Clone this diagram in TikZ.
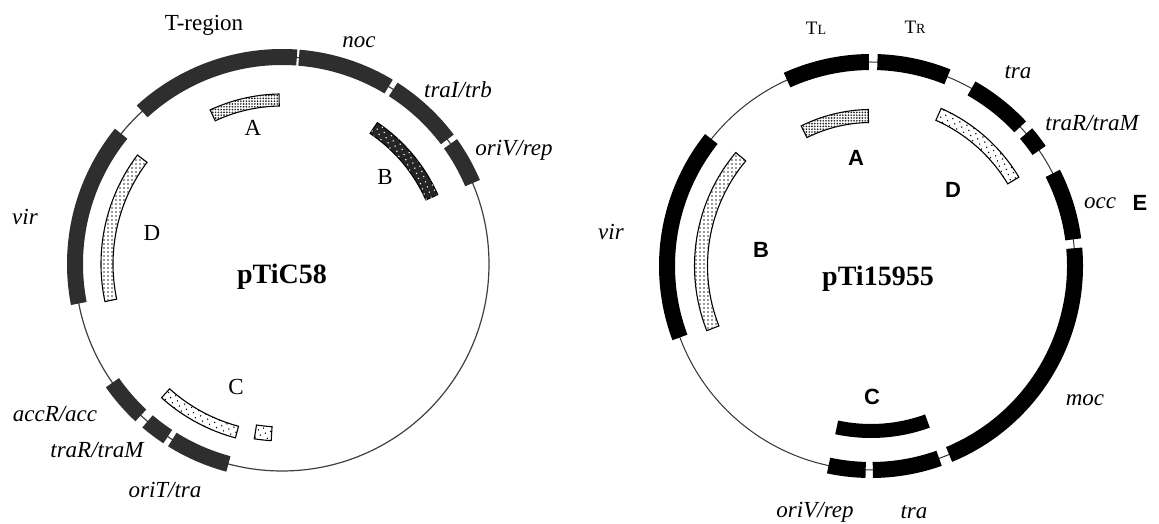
\documentclass[tikz,border=0pt]{standalone}
\usepackage{fontspec}
\setmainfont{Liberation Serif}
\newfontfamily\arialf{Liberation Sans}
\usetikzlibrary{patterns,patterns.meta}

\tikzdeclarepattern{name=sparsedots, type=uncolored,
  bounding box={(-1pt,-1pt) and (1pt,1pt)}, tile size={(5.5pt,5.5pt)},
  tile transformation={rotate=20}, code={\fill (0,0) circle (0.8pt);}}
\tikzdeclarepattern{name=meddots, type=uncolored,
  bounding box={(-1pt,-1pt) and (1pt,1pt)}, tile size={(4pt,4pt)},
  code={\fill (0,0) circle (0.85pt);}}
\tikzdeclarepattern{name=densedots, type=uncolored,
  bounding box={(-1pt,-1pt) and (1pt,1pt)}, tile size={(2.8pt,2.8pt)},
  code={\fill (0,0) circle (0.95pt);}}

\newcommand{\annseg}[5]{%
  \pgfmathsetmacro\segri{#4-#5/2}\pgfmathsetmacro\segro{#4+#5/2}%
  \path[#1] (#2:\segri pt) arc[start angle=#2,end angle=#3,radius=\segri pt]
    -- (#3:\segro pt) arc[start angle=#3,end angle=#2,radius=\segro pt] -- cycle;}

\tikzset{
  lband/.style={fill=black!82},
  rband/.style={fill=black},
  boxline/.style={draw=black, line width=1.1pt},
  lcirc/.style={draw=black!75, line width=1.2pt},
  rcirc/.style={draw=black!80, line width=1pt},
  ital/.style={font=\fontsize{23}{23}\selectfont\itshape, inner sep=0pt},
  upr/.style={font=\fontsize{23}{23}\selectfont, inner sep=0pt},
  ttl/.style={font=\fontsize{28}{28}\selectfont\bfseries, inner sep=0pt},
  sanslab/.style={font=\fontsize{22}{22}\selectfont\arialf\bfseries, inner sep=0pt},
  tlab/.style={font=\fontsize{19}{19}\selectfont, inner sep=0pt},
}

\begin{document}
\begin{tikzpicture}[x=1pt,y=1pt]
\useasboundingbox (0,0) rectangle (1159,524);
\fill[white] (0,0) rectangle (1159,524);

% ---------------- left plasmid pTiC58 ----------------
\begin{scope}[shift={(282,260)}]
  \draw[lcirc] (0,0) circle[radius=207pt];
  \annseg{lband}{85.9}{132.5}{207}{16}
  \annseg{lband}{59}{85.3}{207}{16}
  \annseg{lband}{37}{57.5}{207}{16}
  \annseg{lband}{23}{35.5}{207}{16}
  \annseg{lband}{141}{191}{207}{16}
  \annseg{lband}{215}{227}{207}{16}
  \annseg{lband}{229.5}{236.5}{207}{16}
  \annseg{lband}{238}{255}{207}{16}
  % inner fragments
  \annseg{boxline,fill=white}{91}{115}{164}{12}
  \annseg{pattern=densedots,pattern color=black!85}{91}{115}{164}{12}
  \annseg{boxline,fill=black!85}{24}{56}{164}{13}
  \annseg{pattern=sparsedots,pattern color=white}{24}{56}{164}{13}
  \annseg{boxline,fill=white}{143}{192}{175}{12}
  \annseg{pattern=meddots,pattern color=black!80}{143}{192}{175}{12}
  \annseg{boxline,fill=white}{228}{255}{174}{12}
  \annseg{pattern=sparsedots,pattern color=black}{228}{255}{174}{12}
  \annseg{boxline,fill=white}{261}{266.5}{170}{14}
  \annseg{pattern=sparsedots,pattern color=black}{261}{266.5}{170}{14}
\end{scope}

\node[upr]  (tregion) at (204,499) {T-region};
\node[ital] (noc)     at (359,482) {noc};
\node[ital] (traI)    at (458,434) {traI/trb};
\node[ital] (oriVl)   at (514,374) {oriV/rep};
\node[ital] (virl)    at (25,307)  {vir};
\node[ital] (accR)    at (55,110)  {accR/acc};
\node[ital] (traRl)   at (97,74)   {traR/traM};
\node[ital] (oriT)    at (165,34)  {oriT/tra};
\node[upr]  (Al) at (253,396) {A};
\node[upr]  (Bl) at (385,347) {B};
\node[upr]  (Dl) at (152,291) {D};
\node[upr]  (Cl) at (236,137) {C};
\node[ttl]  (pTiC58) at (282,247) {pTiC58};

% ---------------- right plasmid pTi15955 ----------------
\begin{scope}[shift={(871,258)}]
  \draw[rcirc] (0,0) circle[radius=204pt];
  \annseg{rband}{90.6}{114.3}{204}{16}
  \annseg{rband}{68}{88.2}{204}{16}
  \annseg{rband}{43}{60.5}{204}{16}
  \annseg{rband}{34.5}{40.5}{204}{16}
  \annseg{rband}{7.5}{27}{204}{16}
  \annseg{rband}{-67.5}{5}{204}{16}
  \annseg{rband}{270.5}{289.5}{204}{16}
  \annseg{rband}{258}{268.5}{204}{16}
  \annseg{rband}{141.5}{200.5}{204}{16}
  % inner fragments
  \annseg{boxline,fill=white}{91}{116.5}{150}{13}
  \annseg{pattern=densedots,pattern color=black!85}{91}{116.5}{150}{13}
  \annseg{boxline,fill=white}{31}{66}{166}{13}
  \annseg{pattern=sparsedots,pattern color=black}{31}{66}{166}{13}
  \annseg{boxline,fill=white}{140}{201.5}{170}{13}
  \annseg{pattern=meddots,pattern color=black!80}{140}{201.5}{170}{13}
  \annseg{fill=black}{258}{290}{165}{14}
\end{scope}

\node[tlab] (TL) at (816,496) {T\fontsize{14}{14}\selectfont L};
\node[tlab] (TR) at (915,497) {T\fontsize{14}{14}\selectfont R};
\node[ital] (trat)   at (1018,452) {tra};
\node[ital] (traRr)  at (1092,401) {traR/traM};
\node[ital] (occ)    at (1100,321) {occ};
\node[sanslab] (Er)  at (1140,321) {E};
\node[sanslab] (Ar)  at (856,366) {A};
\node[sanslab] (Dr)  at (953,334) {D};
\node[sanslab] (Br)  at (761,274) {B};
\node[ital] (virr)   at (611,292) {vir};
\node[ttl]  (pTi15955) at (878,245) {pTi15955};
\node[sanslab] (Cr)  at (872,127) {C};
\node[ital] (moc)    at (1085,124) {moc};
\node[ital] (oriVr)  at (815,12) {oriV/rep};
\node[ital] (trab)   at (914,12) {tra};
\end{tikzpicture}
\end{document}
